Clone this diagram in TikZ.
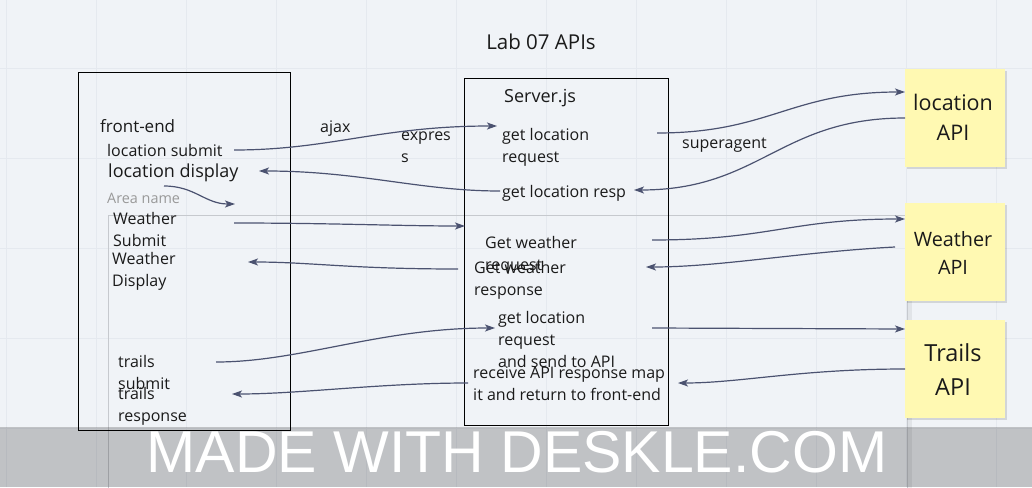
\documentclass[tikz,border=0pt]{standalone}
\usepackage{fontspec}
\setmainfont{Open Sans}
\newfontfamily\wmfont{Liberation Sans}
\usetikzlibrary{arrows.meta}
\definecolor{bg}{HTML}{F0F3F7}
\definecolor{gridc}{HTML}{E5E9EF}
\definecolor{txt}{HTML}{1A1A1A}
\definecolor{conn}{HTML}{4B5270}
\definecolor{sticky}{HTML}{FFF9B2}
\definecolor{framec}{HTML}{C6C9CE}
\definecolor{greytxt}{HTML}{999999}
\tikzset{
  lbl/.style={anchor=base west, inner sep=0pt, align=left, text=txt, font=\fontsize{16}{22}\selectfont},
  box/.style={draw=black, line width=1pt},
  stickybox/.style={fill=sticky, draw=none},
  link/.style={draw=conn, line width=1.2pt, -{Stealth[length=10pt,width=7pt,inset=2.5pt]}},
}
\begin{document}
\begin{tikzpicture}[x=1pt,y=-1pt]
\useasboundingbox (0,0) rectangle (1032,487);
\fill[bg] (0,0) rectangle (1032,487);
% grid
\foreach \gx in {6,96,...,1000} \draw[gridc, line width=0.8pt] (\gx,0) -- (\gx,487);
\foreach \gy in {68,158,248,338,428} \draw[gridc, line width=0.8pt] (0,\gy) -- (1032,\gy);
% inner faint frame
\fill[black, opacity=0.06] (908,217) rectangle (912,495);
\draw[framec, line width=1pt] (108,495) -- (108,215) -- (907,215) -- (907,495);
% sticky notes with shadow
\foreach \yt/\yb in {69/167,203/301,320/418}{
  \fill[black, opacity=0.12] (907,\yt+2) rectangle (1007,\yb+2);
}
\fill[sticky] (905,69) rectangle (1005,167);
\fill[sticky] (905,203) rectangle (1005,301);
\fill[sticky] (905,320) rectangle (1005,418);
% main boxes
\draw[box] (78,72) rectangle (290,430);
\draw[box] (464,78) rectangle (668,425);
% title
\node[lbl, anchor=base, font=\fontsize{20.5}{24}\selectfont] (title) at (541,49) {Lab 07 APIs};
% front-end texts
\node[lbl, font=\fontsize{17}{22}\selectfont] (fe) at (100,132) {front-end};
\node[lbl] (locsub) at (107,156) {location submit};
\node[lbl, font=\fontsize{18}{22}\selectfont] (locdisp) at (108,177) {location display};
\node[lbl, text=greytxt, font=\fontsize{14.4}{18}\selectfont] (area) at (107,203) {Area name};
\node[lbl] (wsub) at (113,246) {Weather\\Submit};
\node[lbl] (wdisp) at (112,286) {Weather\\Display};
\node[lbl] (tsub) at (118,389) {trails\\submit};
\node[lbl] (tresp) at (118,421) {trails\\response};
% middle labels
\node[lbl] (ajax) at (320,132) {ajax};
\node[lbl] (expres) at (401,162) {expres\\s};
\node[lbl, font=\fontsize{18}{22}\selectfont] (server) at (504,102) {Server.js};
\node[lbl] (glreq) at (502,162) {get location\\request};
\node[lbl] (glresp) at (502,197) {get location resp};
\node[lbl] (gwreq) at (485,270) {Get weather\\request};
\node[lbl] (gwresp) at (474,295) {Get weather\\response};
\node[lbl] (gtreq) at (498,367) {get location\\request\\and send to API};
\node[lbl] (recv) at (473,400) {receive API response map\\it and return to front-end};
\node[lbl] (super) at (682,148) {superagent};
% API notes
\node[lbl, anchor=base, align=center, font=\fontsize{21.5}{30}\selectfont] (locapi) at (953,140) {location\\API};
\node[lbl, anchor=base, align=center, font=\fontsize{19.8}{28}\selectfont] (wapi) at (953,274) {Weather\\API};
\node[lbl, anchor=base, align=center, font=\fontsize{23.5}{34}\selectfont] (tapi) at (953,395) {Trails\\API};
% connector end points
\coordinate (a1) at (234,150); \coordinate (b1) at (497,126);
\coordinate (a2) at (500,191); \coordinate (b2) at (259,171);
\coordinate (a3) at (164,186); \coordinate (b3) at (235,204);
\coordinate (a4) at (234,223); \coordinate (b4) at (465,226);
\coordinate (a5) at (458,269); \coordinate (b5) at (248,262);
\coordinate (a6) at (216,362); \coordinate (b6) at (495,328);
\coordinate (a7) at (468,383); \coordinate (b7) at (232,394);
\coordinate (a8) at (657,133); \coordinate (b8) at (905,92);
\coordinate (a9) at (905,118); \coordinate (b9) at (634,190);
\coordinate (a10) at (652,240); \coordinate (b10) at (905,219);
\coordinate (a11) at (895,247); \coordinate (b11) at (646,267);
\coordinate (a12) at (652,328); \coordinate (b12) at (905,329);
\coordinate (a13) at (905,369); \coordinate (b13) at (678,383);
% connectors
\draw[link] (a1) .. controls (330,150) and (380,126) .. (b1);
\draw[link] (a2) .. controls (420,191) and (360,171) .. (b2);
\draw[link] (a3) .. controls (195,186) and (205,204) .. (b3);
\draw[link] (a4) .. controls (330,223) and (400,226) .. (b4);
\draw[link] (a5) .. controls (350,269) and (310,262) .. (b5);
\draw[link] (a6) .. controls (300,362) and (380,328) .. (b6);
\draw[link] (a7) .. controls (380,383) and (300,394) .. (b7);
\draw[link] (a8) .. controls (770,133) and (790,92) .. (b8);
\draw[link] (a9) .. controls (780,118) and (760,190) .. (b9);
\draw[link] (a10) .. controls (770,240) and (790,219) .. (b10);
\draw[link] (a11) .. controls (800,252) and (720,267) .. (b11);
\draw[link] (a12) -- (b12);
\draw[link] (a13) .. controls (800,369) and (740,383) .. (b13);
% watermark band
\fill[black, opacity=0.2] (0,427) rectangle (1032,487);
\node[anchor=base, inner sep=0pt, text=white, font=\wmfont\fontsize{59}{59}\selectfont] (wm) at (517,472) {MADE WITH DESKLE.COM};
\end{tikzpicture}
\end{document}
